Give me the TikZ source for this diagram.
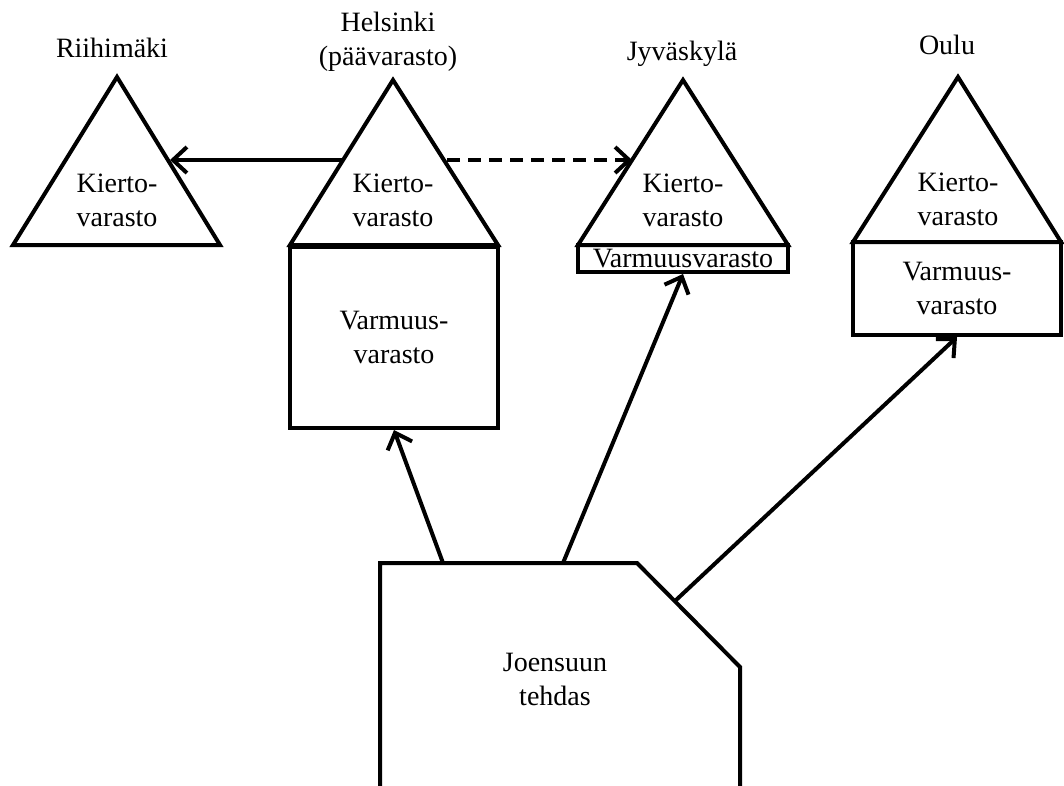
\documentclass[tikz,border=0pt]{standalone}
\usepackage{fontspec}
\setmainfont{Liberation Serif}
\usetikzlibrary{arrows.meta,calc}

\tikzset{
  arr/.style={line width=4pt, -{Straight Barb[length=14pt,width=26pt]}},
  store/.style={draw, line width=4pt, inner sep=0pt, align=center},
  lbl/.style={align=center, inner sep=0pt},
}

\begin{document}
\begin{tikzpicture}[x=1pt,y=-1pt,line width=4pt,
  every node/.append style={font=\fontsize{28}{34}\selectfont}]
\useasboundingbox (0,0) rectangle (1064,785);

% Riihimaki
\draw (13,245) -- (117,77) -- (220,245) -- cycle;
\node[lbl] (rkierto) at (117,200) {Kierto-\\varasto};
\node[lbl, anchor=base] (rname) at (112,57) {Riihimäki};

% Helsinki
\draw (290,245) -- (393,80) -- (498,245) -- cycle;
\node[lbl] (hkierto) at (393,200) {Kierto-\\varasto};
\node[store, minimum width=208pt, minimum height=181pt] (hbox) at (394,337.5) {Varmuus-\\varasto};
\node[lbl] (hname) at (388,42) {Helsinki\\(päävarasto)};

% Jyvaskyla
\draw (578,245) -- (683,80) -- (788,245) -- cycle;
\node[lbl] (jkierto) at (683,200) {Kierto-\\varasto};
\node[store, minimum width=210pt, minimum height=27pt] (jbox) at (683,258.5) {Varmuusvarasto};
\node[lbl, anchor=base] (jname) at (682,60) {Jyväskylä};

% Oulu
\draw (853,242) -- (958,77) -- (1061,242) -- cycle;
\node[lbl] (okierto) at (958,199) {Kierto-\\varasto};
\node[store, minimum width=208pt, minimum height=93pt] (obox) at (957,288.5) {Varmuus-\\varasto};
\node[lbl, anchor=base] (oname) at (947,54) {Oulu};

% tehdas
\draw (380,790) -- (380,563) -- (637,563) -- (740,667) -- (740,790);
\node[lbl] (joe) at (555,679) {Joensuun\\tehdas};

% nuolet
\coordinate (hki-w) at (343,160);
\coordinate (hki-e) at (447,160);
\coordinate (rki-e) at (170,160);
\coordinate (jkl-w) at (632,160);
\coordinate (joe-a) at (443,563);
\coordinate (joe-b) at (563,563);
\coordinate (joe-c) at (675,601);

\draw[arr] (hki-w) -- (rki-e);
\draw[arr, dash pattern=on 13pt off 8pt] (hki-e) -- (jkl-w);
\draw[arr] (joe-a) -- (hbox.south);
\draw[arr] (joe-b) -- (jbox.south);
\draw[arr] (joe-c) -- (obox.south);
\end{tikzpicture}
\end{document}
